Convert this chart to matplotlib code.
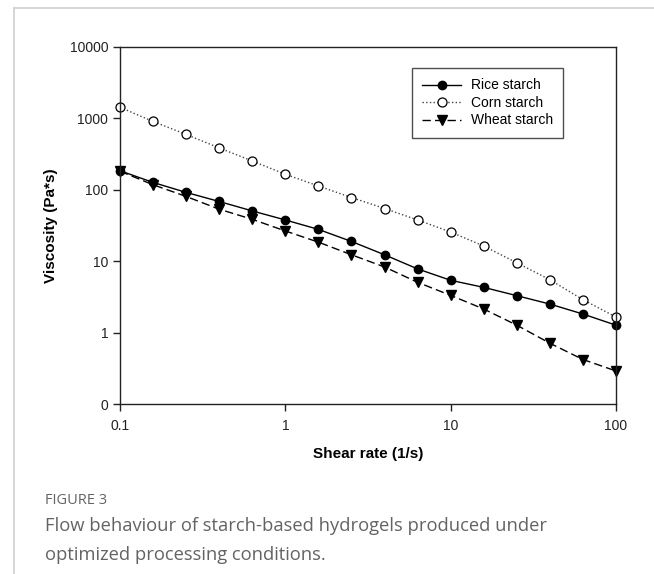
import numpy as np
import matplotlib
matplotlib.use('Agg')
import matplotlib.pyplot as plt
from matplotlib.lines import Line2D
from matplotlib.ticker import FixedLocator, FixedFormatter, NullLocator

# shear rate (1/s), 5 points per decade
shear_rate = [0.1, 0.158, 0.251, 0.398, 0.631, 1.0, 1.585, 2.512, 3.981, 6.31,
              10.0, 15.85, 25.12, 39.81, 63.1, 100.0]

rice = [185, 127, 92, 68.6, 50.6, 37.8, 27.9, 18.9, 12.3, 7.8,
        5.4, 4.3, 3.29, 2.51, 1.82, 1.27]
corn = [1430, 908, 596, 386, 253, 165, 113, 78, 54.7, 37.8,
        25.6, 16.3, 9.5, 5.5, 2.89, 1.65]
wheat = [182, 118, 80.7, 53.5, 38.6, 26.5, 18.5, 12.3, 8.3, 5.06,
         3.32, 2.14, 1.27, 0.71, 0.42, 0.29]

y_ticks = [0.1, 1, 10, 100, 1000, 10000]
y_tick_labels = ['0', '1', '10', '100', '1000', '10000']
x_ticks = [0.1, 1, 10, 100]
x_tick_labels = ['0.1', '1', '10', '100']

plt.rcParams['font.family'] = ['Liberation Sans', 'DejaVu Sans']

fig = plt.figure(figsize=(6.54, 5.74), dpi=100)

# card frame of the page
fig.add_artist(Line2D([13.7/654, 13.7/654], [0, 1 - 7.5/574], color='#cfcfcf', lw=1.2))
fig.add_artist(Line2D([13.7/654, 1], [1 - 7.5/574, 1 - 7.5/574], color='#cfcfcf', lw=1.2))

ax = fig.add_axes([120/654, 1 - 404/574, 496/654, 357/574])
ax.set_xscale('log')
ax.set_yscale('log')

ax.plot(shear_rate, rice, '-', color='black', lw=1.0, marker='o', ms=6,
        mfc='black', mec='black', label='Rice starch')
ax.plot(shear_rate, corn, ':', color='#444444', lw=1.0, marker='o', ms=6.5,
        mfc='white', mec='black', mew=0.9, label='Corn starch')
ax.plot(shear_rate, wheat, '--', color='black', lw=1.0, dashes=(6, 3), marker='v', ms=7,
        mfc='black', mec='black', label='Wheat starch')

ax.set_xlim(0.1, 100)
ax.set_ylim(0.1, 10000)
ax.xaxis.set_major_locator(FixedLocator(x_ticks))
ax.xaxis.set_major_formatter(FixedFormatter(x_tick_labels))
ax.yaxis.set_major_locator(FixedLocator(y_ticks))
ax.yaxis.set_major_formatter(FixedFormatter(y_tick_labels))
ax.xaxis.set_minor_locator(NullLocator())
ax.yaxis.set_minor_locator(NullLocator())
ax.tick_params(direction='out', length=5, width=1, labelsize=10, colors='#222222')
ax.tick_params(axis='x', pad=6)
for s in ax.spines.values():
    s.set_linewidth(1.0)
    s.set_color('#222222')
for l in ax.lines:
    l.set_clip_on(False)

ax.set_xlabel('Shear rate (1/s)', fontsize=11, fontweight='bold', labelpad=10)
ax.set_ylabel('Viscosity (Pa*s)', fontsize=11, fontweight='bold', labelpad=8)

leg = ax.legend(loc='upper left', bbox_to_anchor=((412 - 120)/496, 1 - (68 - 47)/357),
                fontsize=10, frameon=True, fancybox=False, edgecolor='#222222',
                handlelength=2.75, handletextpad=0.72, labelspacing=0.25,
                borderpad=0.75, borderaxespad=0)
leg.get_frame().set_linewidth(1.0)

fig.text(45/654, 1 - 500/574, 'FIGURE 3', fontsize=10.5, color='#636363',
         family=['Open Sans', 'DejaVu Sans'], va='center')
fig.text(45/654, 1 - 526/574, 'Flow behaviour of starch-based hydrogels produced under',
         fontsize=13.2, color='#636363', family=['Open Sans', 'DejaVu Sans'], va='center')
fig.text(45/654, 1 - 555/574, 'optimized processing conditions.',
         fontsize=13.2, color='#636363', family=['Open Sans', 'DejaVu Sans'], va='center')

fig.savefig('out.png', dpi=100)
plt.close()
